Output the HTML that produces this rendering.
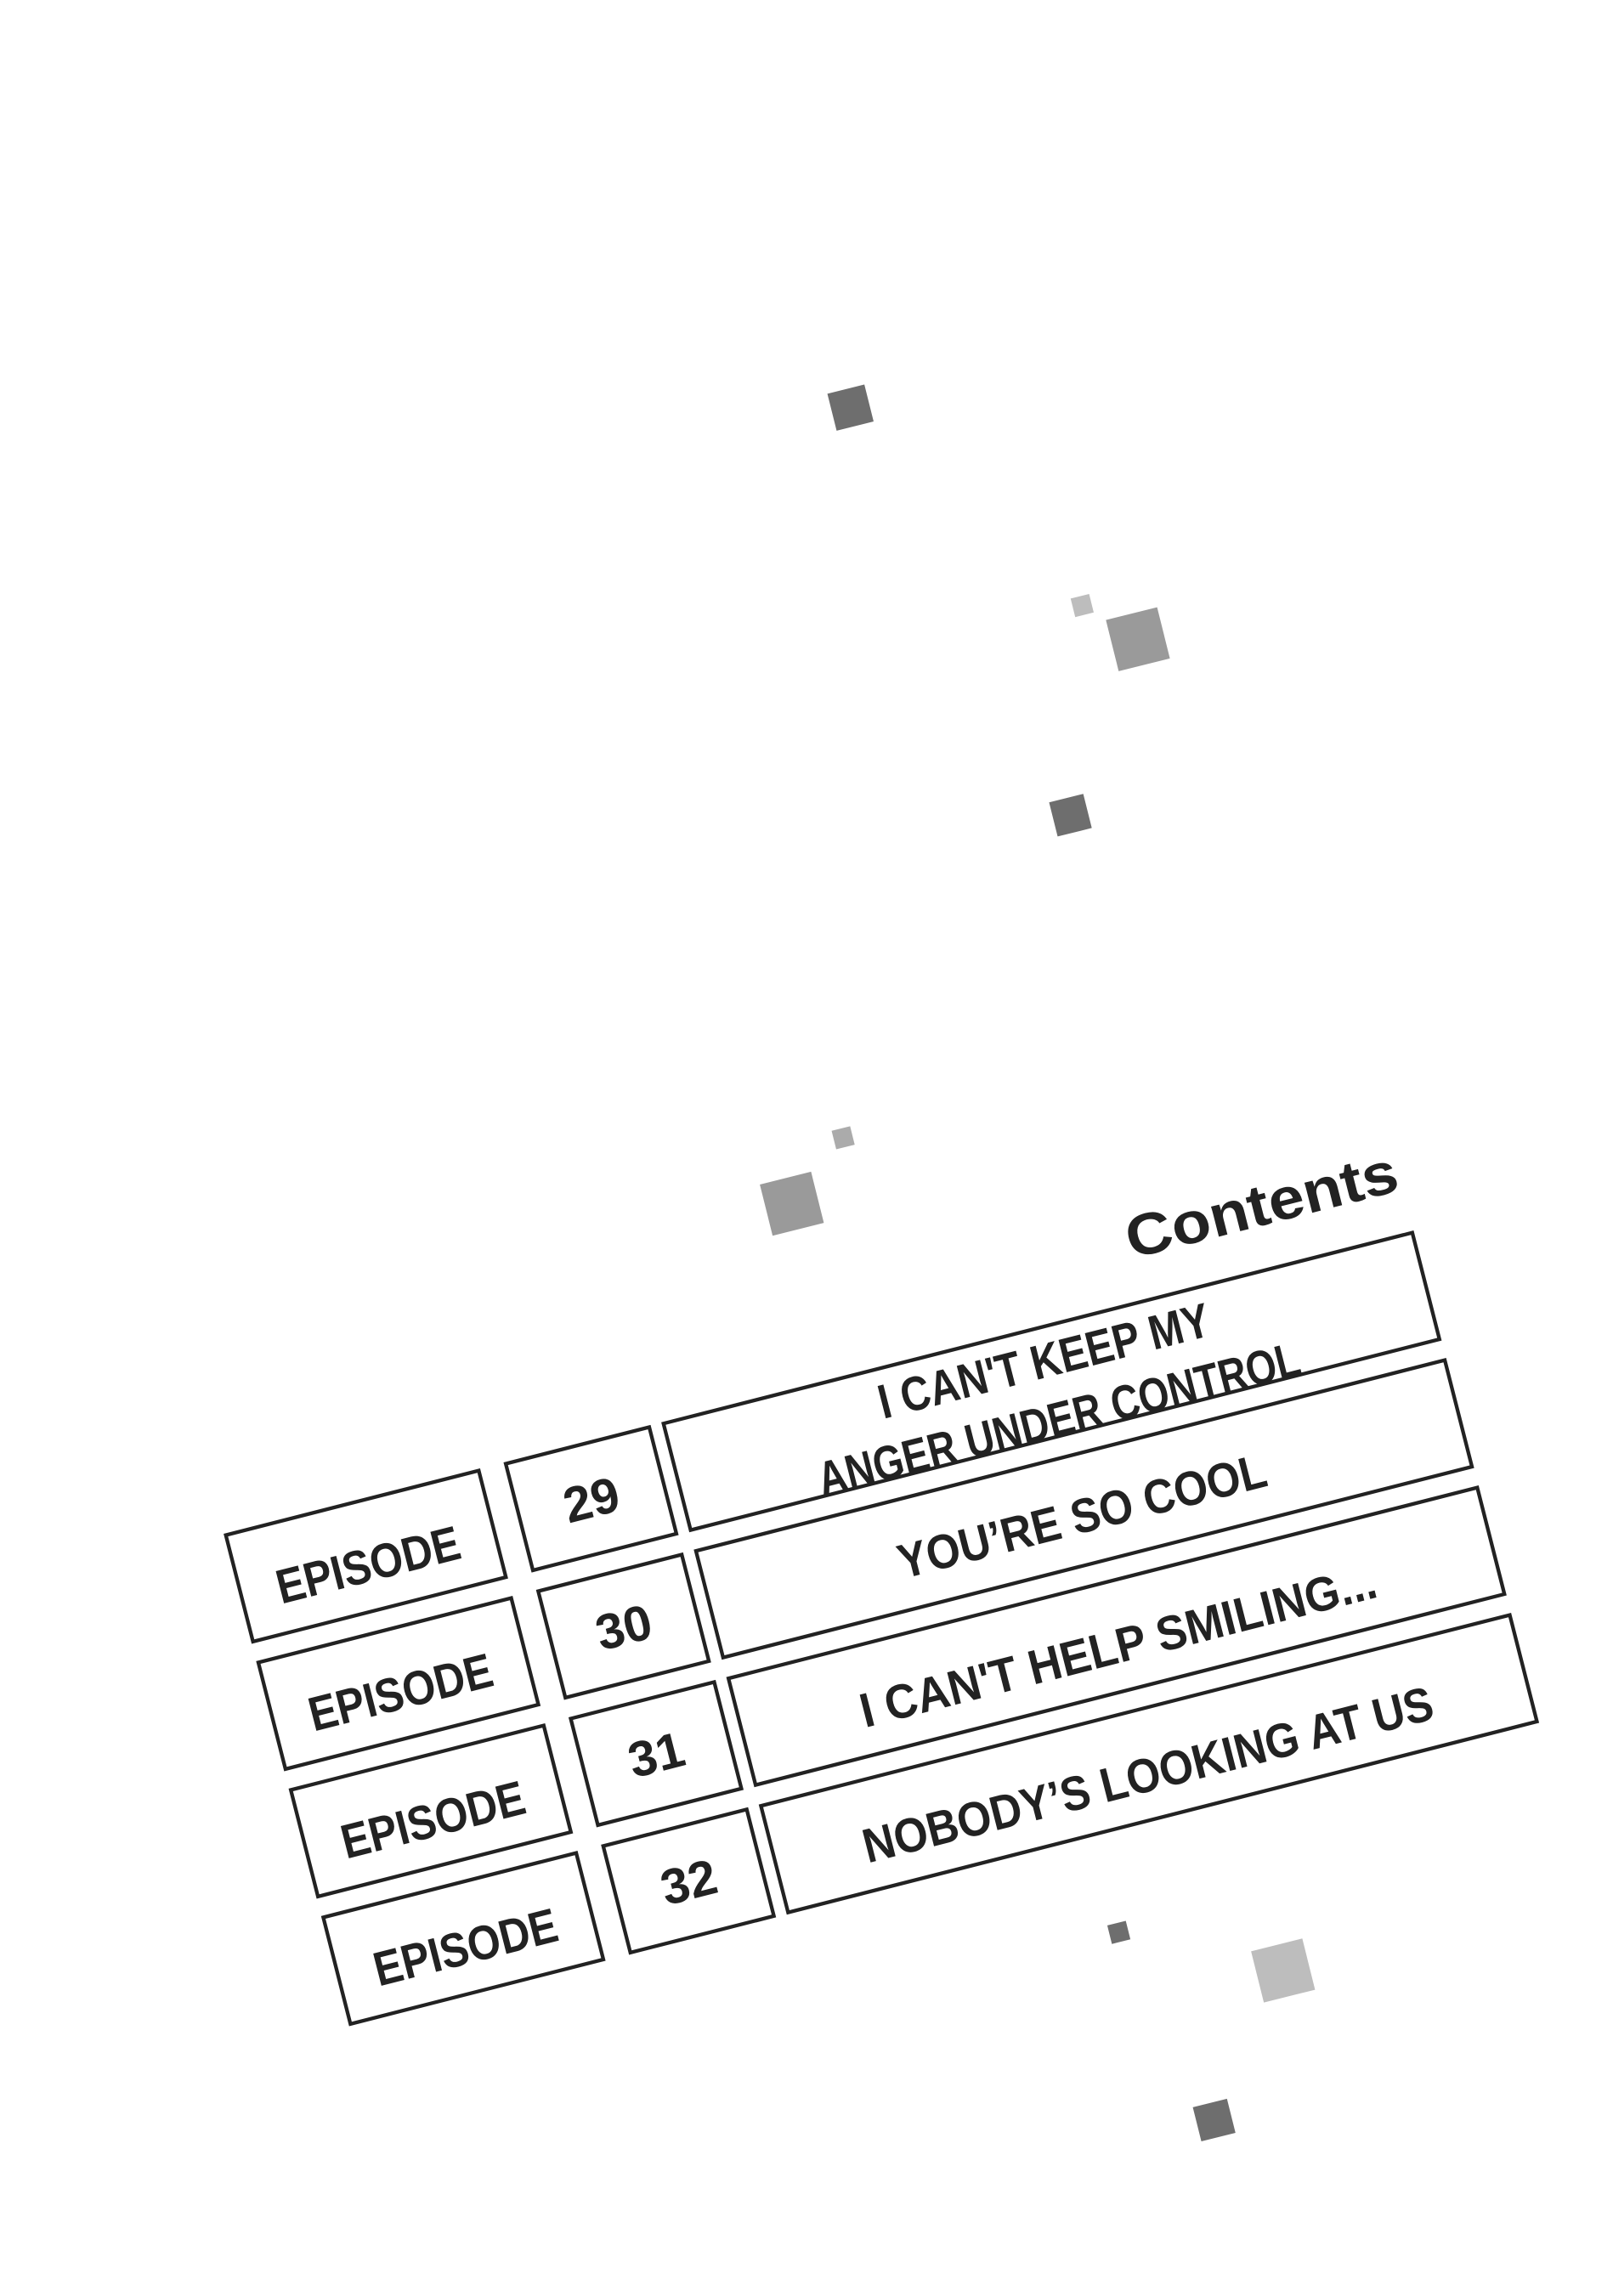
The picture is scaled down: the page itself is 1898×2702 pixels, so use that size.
<!DOCTYPE html>
<html><head><meta charset="utf-8"><style>html,body{margin:0;padding:0;background:#fff}svg{display:block}</style></head>
<body>
<svg width="1898" height="2702" viewBox="0 0 1100 1566" preserveAspectRatio="none" xmlns="http://www.w3.org/2000/svg">
<g>
<rect x="-13" y="-13" width="26" height="26" fill="#6e6e6e" transform="translate(580,278) rotate(-14)"/>
<rect x="-6.5" y="-6.5" width="13" height="13" fill="#bdbdbd" transform="translate(738,413) rotate(-14)"/>
<rect x="-18" y="-18" width="36" height="36" fill="#9a9a9a" transform="translate(776,436) rotate(-14)"/>
<rect x="-12" y="-12" width="24" height="24" fill="#6e6e6e" transform="translate(730,556) rotate(-14)"/>
<rect x="-6.5" y="-6.5" width="13" height="13" fill="#ababab" transform="translate(575,776) rotate(-14)"/>
<rect x="-18" y="-18" width="36" height="36" fill="#9a9a9a" transform="translate(540,821) rotate(-14)"/>
<rect x="-6.5" y="-6.5" width="13" height="13" fill="#6e6e6e" transform="translate(763,1318) rotate(-14)"/>
<rect x="-18" y="-18" width="36" height="36" fill="#bdbdbd" transform="translate(875,1344) rotate(-14)"/>
<rect x="-12" y="-12" width="24" height="24" fill="#6e6e6e" transform="translate(828,1446) rotate(-14)"/>
</g>
<g transform="translate(154,1047) rotate(-14.3)" fill="none" stroke="#222" stroke-width="2.5">
<text x="835" y="-30" text-anchor="end" textLength="190" lengthAdjust="spacingAndGlyphs" font-family="Liberation Sans, sans-serif" font-weight="bold" font-size="40" fill="#222" stroke="none">Contents</text>
<g>
<rect x="0" y="0" width="178" height="75"/><rect x="197" y="0" width="101" height="75"/><rect x="308" y="0" width="527" height="75"/>
<rect x="0" y="89.7" width="178" height="75"/><rect x="197" y="89.7" width="101" height="75"/><rect x="308" y="89.7" width="527" height="75"/>
<rect x="0" y="179.4" width="178" height="75"/><rect x="197" y="179.4" width="101" height="75"/><rect x="308" y="179.4" width="527" height="75"/>
<rect x="0" y="269.1" width="178" height="75"/><rect x="197" y="269.1" width="101" height="75"/><rect x="308" y="269.1" width="527" height="75"/>
</g>
<g fill="#222" stroke="none" font-family="Liberation Sans Narrow, Liberation Sans, sans-serif" font-weight="bold" font-size="33" text-anchor="middle">
<text x="89" y="55" textLength="128" lengthAdjust="spacingAndGlyphs">EPISODE</text>
<text x="89" y="144.7" textLength="128" lengthAdjust="spacingAndGlyphs">EPISODE</text>
<text x="89" y="234.4" textLength="128" lengthAdjust="spacingAndGlyphs">EPISODE</text>
<text x="89" y="324.1" textLength="128" lengthAdjust="spacingAndGlyphs">EPISODE</text>
<text x="247.5" y="50" font-size="34" textLength="38" lengthAdjust="spacingAndGlyphs">29</text>
<text x="247.5" y="139.7" font-size="34" textLength="38" lengthAdjust="spacingAndGlyphs">30</text>
<text x="247.5" y="229.4" font-size="34" textLength="38" lengthAdjust="spacingAndGlyphs">31</text>
<text x="247.5" y="319.1" font-size="34" textLength="38" lengthAdjust="spacingAndGlyphs">32</text>
<text x="570" y="34" textLength="232" lengthAdjust="spacingAndGlyphs">I CAN'T KEEP MY</text>
<text x="570" y="75" textLength="338" lengthAdjust="spacingAndGlyphs">ANGER UNDER CONTROL</text>
<text x="569" y="143" textLength="258" lengthAdjust="spacingAndGlyphs">YOU’RE SO COOL</text>
<text x="571" y="235" textLength="362" lengthAdjust="spacingAndGlyphs">I CAN'T HELP SMILING...</text>
<text x="569" y="325" textLength="400" lengthAdjust="spacingAndGlyphs">NOBODY’S LOOKING AT US</text>
</g>
</g>
</svg>
</body></html>
